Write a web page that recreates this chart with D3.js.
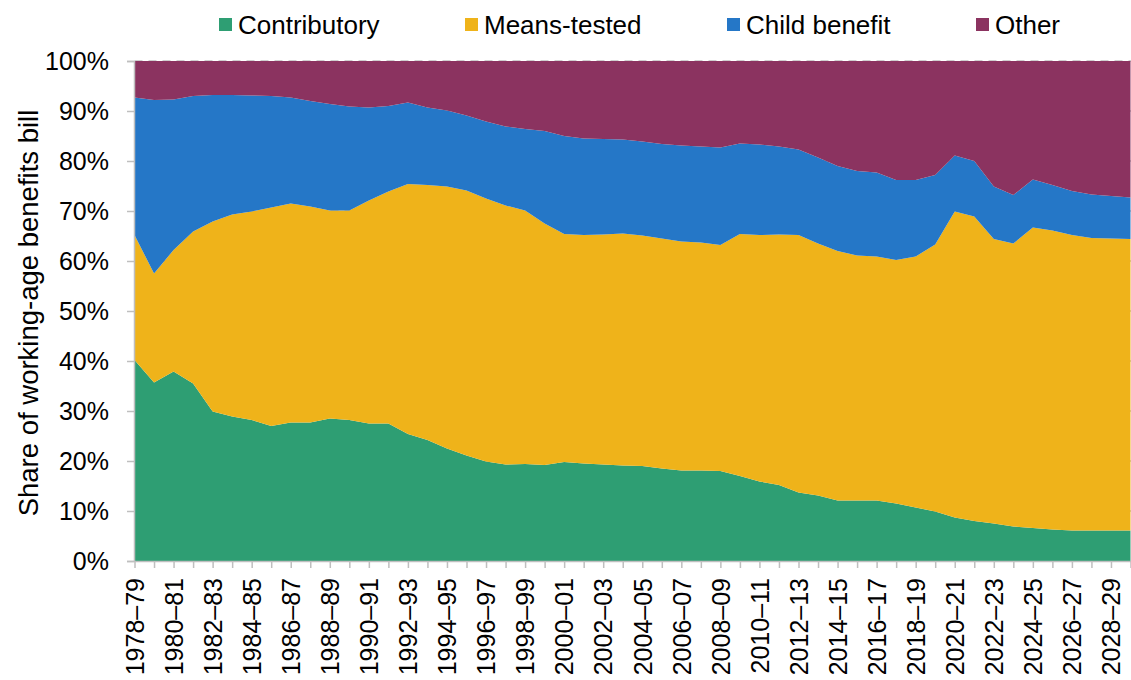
<!DOCTYPE html>
<html>
<head>
<meta charset="utf-8">
<script src="https://cdn.jsdelivr.net/npm/d3@7/dist/d3.min.js"></script>
<style>
  html, body { margin: 0; padding: 0; background: #ffffff; }
  svg { display: block; font-family: "Liberation Sans", Arial, sans-serif; }
</style>
</head>
<body>
<svg id="chart" width="1131" height="680"></svg>
<script>
// ---- Data ----
const years = [
  "1978–79","1979–80","1980–81","1981–82","1982–83","1983–84","1984–85","1985–86",
  "1986–87","1987–88","1988–89","1989–90","1990–91","1991–92","1992–93","1993–94",
  "1994–95","1995–96","1996–97","1997–98","1998–99","1999–00","2000–01","2001–02",
  "2002–03","2003–04","2004–05","2005–06","2006–07","2007–08","2008–09","2009–10",
  "2010–11","2011–12","2012–13","2013–14","2014–15","2015–16","2016–17","2017–18",
  "2018–19","2019–20","2020–21","2021–22","2022–23","2023–24","2024–25","2025–26",
  "2026–27","2027–28","2028–29","2029–30"
];
const contributory = [
  40.2,35.7,37.9,35.5,29.9,28.9,28.2,27.0,27.7,27.7,28.5,28.2,27.5,27.5,25.4,24.2,
  22.5,21.1,19.9,19.3,19.4,19.2,19.8,19.5,19.3,19.1,19.0,18.5,18.1,18.1,18.0,17.0,
  15.9,15.2,13.7,13.1,12.1,12.1,12.1,11.5,10.7,9.9,8.7,8.0,7.5,6.9,6.6,6.3,6.1,6.1,6.1,6.1
];
const meansTested = [
  25.0,21.8,24.3,30.4,38.0,40.4,41.7,43.7,43.8,43.2,41.6,41.9,44.6,46.4,50.0,51.0,
  52.4,53.0,52.6,51.8,50.7,48.3,45.6,45.7,46.0,46.4,46.1,46.0,45.8,45.6,45.2,48.4,
  49.3,50.1,51.5,50.4,49.9,49.0,48.8,48.7,50.2,53.4,61.2,60.9,56.9,56.6,60.1,59.8,
  59.1,58.5,58.4,58.3
];
const childBenefit = [
  27.5,34.7,30.1,27.1,25.3,23.9,23.2,22.3,21.2,21.1,21.3,20.8,18.6,17.1,16.3,15.5,
  15.2,15.0,15.4,15.8,16.3,18.5,19.6,19.3,19.1,18.8,18.8,18.9,19.2,19.2,19.5,18.1,
  18.1,17.6,17.1,17.2,17.0,16.9,16.8,16.0,15.3,13.9,11.2,11.1,10.5,9.7,9.6,9.1,
  8.8,8.7,8.5,8.3
];
const other = [
  7.3,7.8,7.7,7.0,6.8,6.8,6.9,7.0,7.3,8.0,8.6,9.1,9.3,9.0,8.3,9.3,
  9.9,10.9,12.1,13.1,13.6,14.0,15.0,15.5,15.6,15.7,16.1,16.6,16.9,17.1,17.3,16.5,
  16.7,17.1,17.7,19.3,21.0,22.0,22.3,23.8,23.8,22.8,18.9,20.0,25.1,26.8,23.7,24.8,
  26.0,26.7,27.0,27.3
];
const seriesNames = ["Contributory","Means-tested","Child benefit","Other"];
const seriesColors = ["#2e9e73","#efb31a","#2577c7","#8b3360"];
const yTicks = [0,10,20,30,40,50,60,70,80,90,100];

// ---- Build table ----
const keys = ["contributory","meansTested","childBenefit","other"];
const table = years.map((yr, i) => ({
  year: yr,
  contributory: contributory[i],
  meansTested: meansTested[i],
  childBenefit: childBenefit[i],
  other: other[i]
}));
table.forEach(d => {
  const s = keys.reduce((a, k) => a + d[k], 0);
  keys.forEach(k => d[k] = d[k] * 100 / s);
});

const svg = d3.select("#chart");
const plotLeft = 134.5, plotRight = 1130.5, plotTop = 61, plotBottom = 561;

const x = d3.scalePoint().domain(years).range([plotLeft, plotRight]);
const y = d3.scaleLinear().domain([0, 100]).range([plotBottom, plotTop]);

const layers = d3.stack().keys(keys)(table);

// gridlines (dashed, beneath the areas)
svg.append("g").selectAll("line").data(yTicks.filter(t => t > 0)).join("line")
  .attr("x1", plotLeft).attr("x2", 1131)
  .attr("y1", d => y(d)).attr("y2", d => y(d))
  .attr("stroke", "#c0c0c0").attr("stroke-width", 1.3)
  .attr("stroke-dasharray", "8,6");

const area = d3.area()
  .x(d => x(d.data.year))
  .y0(d => y(d[0]))
  .y1(d => y(d[1]));

svg.append("g").selectAll("path").data(layers).join("path")
  .attr("d", area)
  .attr("fill", (d, i) => seriesColors[i]);

// Y axis
const yAxis = d3.axisLeft(y).tickValues(yTicks).tickFormat(d => d + "%").tickSize(7).tickPadding(18);
const gy = svg.append("g").attr("transform", `translate(${plotLeft - 0.5},0)`).call(yAxis);
gy.select(".domain").attr("stroke", "#bfbfbf").attr("stroke-width", 1.5);
gy.selectAll(".tick line").attr("stroke", "#bfbfbf").attr("stroke-width", 1.5);
gy.selectAll(".tick text").attr("font-size", 25).attr("fill", "#000")
  .attr("font-family", "'Liberation Sans', Arial, sans-serif");

// X axis
const xAxis = d3.axisBottom(x).tickSize(7).tickSizeOuter(0)
  .tickFormat((d, i) => i % 2 === 0 ? d : "");
const gx = svg.append("g").attr("transform", `translate(0,${plotBottom})`).call(xAxis);
gx.select(".domain").attr("stroke", "#bfbfbf").attr("stroke-width", 1.5);
gx.selectAll(".tick line").attr("stroke", "#bfbfbf").attr("stroke-width", 1.5);
gx.selectAll(".tick text")
  .attr("font-size", 25).attr("fill", "#000")
  .attr("font-family", "'Liberation Sans', Arial, sans-serif")
  .attr("transform", "rotate(-90)")
  .attr("text-anchor", "end")
  .attr("x", -17).attr("y", 0).attr("dy", "0.35em");

// Y axis title
svg.append("text")
  .attr("transform", `translate(38,${(plotTop + plotBottom) / 2 + 2}) rotate(-90)`)
  .attr("text-anchor", "middle")
  .attr("font-size", 27.5)
  .attr("fill", "#000")
  .text("Share of working-age benefits bill");

// Legend
const legendX = [219, 465, 727, 976];
const lg = svg.append("g");
seriesNames.forEach((name, i) => {
  lg.append("rect").attr("x", legendX[i]).attr("y", 18).attr("width", 13).attr("height", 13)
    .attr("fill", seriesColors[i]);
  lg.append("text").attr("x", legendX[i] + 19).attr("y", 24.5).attr("dy", "0.35em")
    .attr("font-size", 26).attr("fill", "#000").text(name);
});
</script>
</body>
</html>
